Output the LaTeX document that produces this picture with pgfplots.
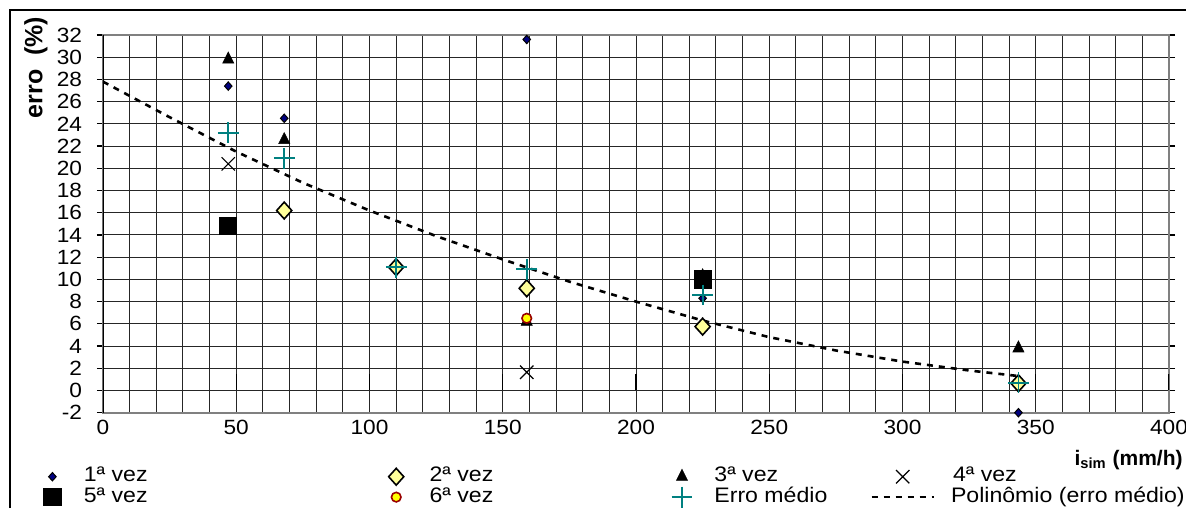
\documentclass[border=0pt]{standalone}
\usepackage{pgfplots}
\pgfplotsset{compat=1.18}
\usepackage{fontspec}
\setmainfont{Liberation Sans}[FakeStretch=1.1]
\newfontfamily\plainfont{Liberation Sans}
\definecolor{navyd}{HTML}{000080}
\definecolor{lyellow}{HTML}{FFFF99}
\definecolor{tealc}{HTML}{008080}
\definecolor{dred}{HTML}{990000}
\definecolor{cyel}{HTML}{FFFF00}
\pgfplotsset{
  mymarks/.style={only marks,
    legend image code/.code={\path (0pt,0pt) (31pt,0pt);\draw[mark repeat=2,mark phase=2,##1] plot coordinates {(0pt,0pt)(15.5pt,0pt)(31pt,0pt)};}},
  myline/.style={legend image code/.code={\draw[##1] (0pt,0pt) -- (31pt,0pt);}},
}
\begin{document}
\begin{tikzpicture}
\useasboundingbox (-51.5pt,-47.65pt) rectangle (541.5pt,206.35pt);
\draw[black, line width=1pt] (-46.5pt,-47.65pt) -- (-46.5pt,201.35pt) -- (541.5pt,201.35pt);
\begin{axis}[
  scale only axis, width=533pt, height=188.85pt,
  xmin=0, xmax=400, ymin=-2, ymax=32,
  xtick={0,50,...,400}, minor x tick num=4,
  ytick={-2,0,...,32},
  grid=both,
  major grid style={black!85, line width=0.5pt},
  minor grid style={black!85, line width=0.5pt},
  axis line style={gray, line width=1pt},
  tick label style={font=\fontsize{10.3}{12}\selectfont},
  /pgf/number format/assume math mode=true,
  xticklabel style={anchor=north, inner sep=0pt, yshift=-0.5pt},
  yticklabel style={anchor=east, inner sep=0pt, xshift=-7.3pt},
  x tick style={draw=none},
  minor tick length=0pt,
  y tick style={black, line width=0.6pt},
  tick align=outside, major tick length=3pt,
  legend columns=4,
  legend cell align=left,
  legend style={at={(axis description cs:-0.0769,-0.143)}, anchor=north west,
    draw=none, fill=none, inner sep=0pt, outer sep=0pt,
    column sep=0pt, row sep=0pt,
    font=\fontsize{10.5}{12}\selectfont,
    nodes={inner sep=0pt, text height=7.5pt, text depth=2.5pt}},
]
\draw[black, line width=0.8pt] (rel axis cs:0,0) -- (rel axis cs:0,1);
\pgfplotsinvokeforeach{50,100,...,400}{\draw[black, line width=0.6pt] (axis cs:#1,0) -- ++(0,-3pt);}

\addplot[mymarks, mark=diamond*, mark size=2.1pt, mark options={fill=navyd, draw=black, line width=0.5pt, xscale=1.2}]
  coordinates {(47,27.4)(68,24.5)(159,31.6)(225,8.3)(343.5,-2.0)};
\addlegendentry{\makebox[140.5pt][l]{1ª vez}}

\addplot[mymarks, mark=diamond*, mark size=4.2pt, mark options={fill=lyellow, draw=black, line width=0.8pt, xscale=1.2}]
  coordinates {(68,16.2)(110,11.1)(159,9.2)(225,5.75)(343.5,0.65)};
\addlegendentry{\makebox[111.5pt][l]{\hspace{1pt}2ª vez}}

\addplot[mymarks, mark=triangle*, mark size=3.2pt, mark options={fill=black, draw=black, line width=0.3pt, yscale=1.15}]
  coordinates {(47,29.8)(68,22.55)(159,6.2)(225,10.3)(343.5,3.8)};
\addlegendentry{\makebox[78.5pt][l]{\hspace{0.5pt}3ª vez}}

\addplot[mymarks, mark=x, mark size=4.7pt, mark options={draw=black, line width=0.6pt}]
  coordinates {(47,20.4)(159,1.64)};
\addlegendentry{\hspace{9pt}4ª vez}

\addplot[mymarks, mark=square*, mark size=4.3pt, mark options={fill=black, draw=black, line width=0.4pt}]
  coordinates {(47,14.8)(225,10.0)};
\addlegendentry{\makebox[140.5pt][l]{5ª vez}}

\addplot[mymarks, mark=*, mark size=2.4pt, mark options={fill=cyel, draw=dred, line width=0.8pt}]
  coordinates {(159,6.5)};
\addlegendentry{\makebox[111.5pt][l]{\hspace{1pt}6ª vez}}

\addplot[mymarks, mark=+, mark size=5.2pt, mark options={draw=tealc, line width=0.9pt}]
  coordinates {(47,23.2)(68,20.9)(110,11.1)(159,10.9)(225,8.6)(343.5,0.7)};
\addlegendentry{\makebox[78.5pt][l]{\hspace{0.5pt}Erro médio}}

\addplot[myline, black, line width=1.3pt, dash pattern=on 3pt off 3pt]
  coordinates {(0,27.8)(25,24.6)(50,21.5)(75,18.7)(100,16.2)(125,13.9)(150,11.8)(175,9.8)(200,8.0)(225,6.3)(250,4.8)(275,3.6)(300,2.6)(325,1.8)(343.5,1.3)};
\addlegendentry{\hspace{8pt}Polinômio (erro médio)}
\end{axis}
\node[rotate=90, anchor=base, font=\plainfont\bfseries\fontsize{12.5}{15}\selectfont]
  at (-30.25pt,172.6pt) {erro\ \ (\%)};
\node[anchor=base east, font=\plainfont\bfseries\fontsize{10.5}{12}\selectfont, inner sep=0pt]
  at (540pt,-26.15pt) {i\textsubscript{sim} (mm/h)};
\end{tikzpicture}
\end{document}
